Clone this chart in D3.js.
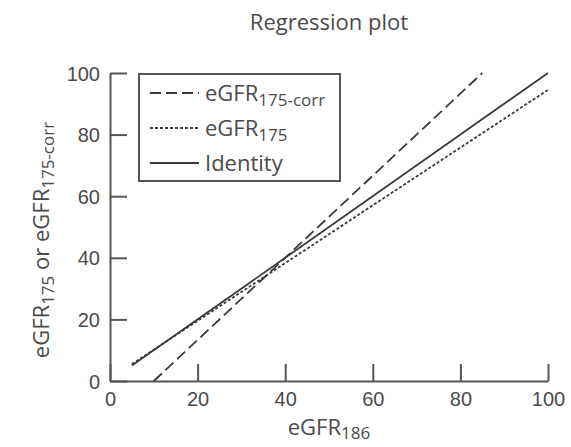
<!DOCTYPE html>
<meta charset="utf-8">
<style>
body { margin: 0; background: #fff; }
svg { font-family: "Open Sans", "Liberation Sans", sans-serif; fill: #4a4a4a; }
.axis path, .axis line { stroke: #555; stroke-width: 2; fill: none; }
.axis text { font-size: 20px; fill: #4a4a4a; }
.series { fill: none; stroke: #3a3a3a; stroke-width: 1.8; }
</style>
<body>
<script src="https://cdn.jsdelivr.net/npm/d3@7"></script>
<script>
// regression lines (x = eGFR186)
var identityX = [5, 100], identityY = [5, 100];
var corrX = [10, 85], corrY = [0, 100];
var e175X = [5, 100], e175Y = [5.5, 94.5];
var xTicks = [0, 20, 40, 60, 80, 100];
var yTicks = [0, 20, 40, 60, 80, 100];
var legendNames = [["eGFR", "175-corr"], ["eGFR", "175"], ["Identity", ""]];

var width = 571, height = 447;
var svg = d3.select("body").append("svg")
	.attr("width", width)
	.attr("height", height);

var x = d3.scaleLinear().domain([0, 100]).range([110, 548]);
var y = d3.scaleLinear().domain([0, 100]).range([381, 73]);

var line = d3.line()
	.x(function(d) { return x(d[0]); })
	.y(function(d) { return y(d[1]); });

function pts(xs, ys) { return xs.map(function(v, i) { return [v, ys[i]]; }); }

// axes, ticks point inward
var xAxis = svg.append("g").attr("class", "x axis")
	.attr("transform", "translate(0," + y(0) + ")")
	.call(d3.axisTop(x).tickValues(xTicks).tickSize(17).tickSizeOuter(0).tickFormat(""));
xAxis.selectAll(".tick").append("text")
	.attr("y", 25)
	.attr("text-anchor", "middle")
	.text(function(d) { return d; });

var yAxis = svg.append("g").attr("class", "y axis")
	.attr("transform", "translate(" + x(0) + ",0)")
	.call(d3.axisRight(y).tickValues(yTicks).tickSize(17).tickSizeOuter(0).tickFormat(""));
yAxis.selectAll(".tick").append("text")
	.attr("x", -10)
	.attr("dy", "0.35em")
	.attr("text-anchor", "end")
	.text(function(d) { return d; });

// lines
svg.append("path").attr("class", "series")
	.attr("d", line(pts(identityX, identityY)));
svg.append("path").attr("class", "series")
	.style("stroke-dasharray", "11,5")
	.attr("d", line(pts(corrX, corrY)));
svg.append("path").attr("class", "series")
	.style("stroke-dasharray", "3,2")
	.attr("d", line(pts(e175X, e175Y)));

// title
svg.append("text")
	.attr("x", 329).attr("y", 30)
	.attr("text-anchor", "middle")
	.style("font-size", "22px")
	.text("Regression plot");

// x title
var xt = svg.append("text")
	.attr("x", 329).attr("y", 435)
	.attr("text-anchor", "middle")
	.style("font-size", "22px");
xt.append("tspan").text("eGFR");
xt.append("tspan").attr("dy", 4).style("font-size", "17px").text("186");

// y title
var yt = svg.append("text")
	.attr("transform", "translate(49,240) rotate(-90)")
	.attr("text-anchor", "middle")
	.style("font-size", "22px");
yt.append("tspan").text("eGFR");
yt.append("tspan").attr("dy", 5).style("font-size", "17px").text("175");
yt.append("tspan").attr("dy", -5).text(" or eGFR");
yt.append("tspan").attr("dy", 5).style("font-size", "17px").text("175-corr");

// legend
var legend = svg.append("g");
legend.append("rect")
	.attr("x", 139).attr("y", 74)
	.attr("width", 201).attr("height", 107)
	.style("fill", "#fff").style("stroke", "#555").style("stroke-width", 2);
var dashes = ["11,5", "3,2", null];
legendNames.forEach(function(n, i) {
	var ry = 93 + i * 35;
	legend.append("line").attr("class", "series")
		.attr("x1", 150).attr("x2", 199)
		.attr("y1", ry).attr("y2", ry)
		.style("stroke-dasharray", dashes[i]);
	var t = legend.append("text")
		.attr("x", 205).attr("y", ry + 8)
		.style("font-size", "22px");
	t.append("tspan").text(n[0]);
	if (n[1]) t.append("tspan").attr("dy", 5).style("font-size", "17px").text(n[1]);
});
</script>
